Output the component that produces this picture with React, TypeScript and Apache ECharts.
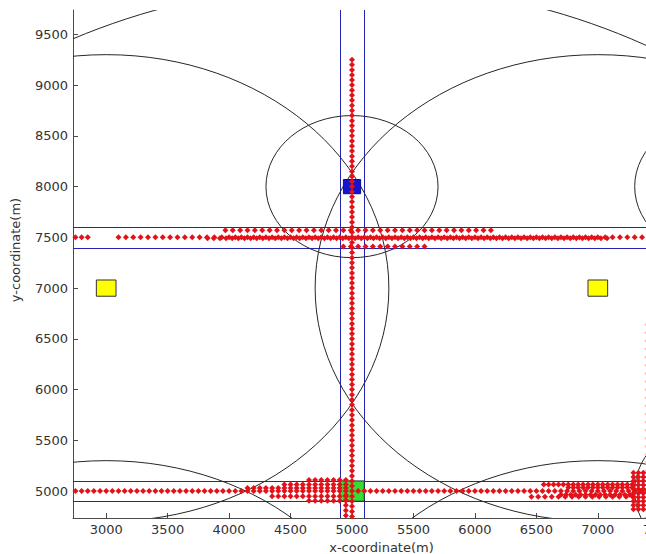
import React, { useEffect, useRef } from 'react';
import * as echarts from 'echarts';

// ---- axes ----
const xTicks = [3000, 3500, 4000, 4500, 5000, 5500, 6000, 6500, 7000, 7500];
const yTicks = [5000, 5500, 6000, 6500, 7000, 7500, 8000, 8500, 9000, 9500];
const xRange = [2730, 7750];
const yRange = [4735, 9740];

// ---- road boundaries ----
const roadX = [4900, 5100];
const roadY = [7400, 7600, 4900, 5100];

// ---- coverage circles: centre and radius (m) ----
const circleCenters = [
  [3000, 7000], [7000, 7000], [3000, 3000], [7000, 3000],
  [5000, 8000], [8000, 8000], [8000, 5000], [5000, 5000],
];
const circleRadii = [2300, 2300, 2300, 2300, 700, 700, 700, 5000];

// ---- nodes: centre and half side (m) ----
const nodeCenters = [[5000, 8000], [5000, 5000], [3000, 7000], [7000, 7000]];
const nodeHalf = [70, 100, 80, 80];
const nodeKinds = ['blue', 'green', 'yellow', 'yellow'];

// ---- red sample points ----
const columnX5000Y = [4750, 4800, 4850, 4900, 4950, 5000, 5050, 5100, 5150, 5200, 5250, 5300, 5350, 5400, 5450, 5500, 5550, 5600, 5650, 5700, 5750, 5800, 5850, 5900, 5950, 6000, 6050, 6100, 6150, 6200, 6250, 6300, 6350, 6400, 6450, 6500, 6550, 6600, 6650, 6700, 6750, 6800, 6850, 6900, 6950, 7000, 7050, 7100, 7150, 7200, 7250, 7300, 7350, 7400, 7450, 7500, 7550, 7600, 7650, 7700, 7750, 7800, 7850, 7900, 7950, 8000, 8050, 8100, 8150, 8200, 8250, 8300, 8350, 8400, 8450, 8500, 8550, 8600, 8650, 8700, 8750, 8800, 8850, 8900, 8950, 9000, 9050, 9100, 9150, 9200, 9250];
const columnX4950Y = [4760, 4810, 4860, 4910, 4960];

const rowY7500X = [2750, 2800, 2850, 3100, 3160, 3220, 3280, 3340, 3400, 3460, 3520, 3580, 3640, 3700, 3760, 3820, 3880, 3940, 4000, 4050, 4100, 4150, 4200, 4250, 4300, 4350, 4400, 4450, 4500, 4550, 4600, 4650, 4700, 4750, 4800, 4850, 4900, 4950, 5000, 5050, 5100, 5150, 5200, 5250, 5300, 5350, 5400, 5450, 5500, 5550, 5600, 5650, 5700, 5750, 5800, 5850, 5900, 5950, 6000, 6050, 6100, 6150, 6200, 6250, 6300, 6350, 6400, 6450, 6500, 6550, 6600, 6650, 6700, 6750, 6800, 6850, 6900, 6950, 7000, 7060, 7120, 7180, 7240, 7300, 7360];
const rowY7490X = [3825, 3875, 3925, 3975, 4025, 4075, 4125, 4175, 4225, 4275, 4325, 4375, 4425, 4475, 4525, 4575, 4625, 4675, 4725, 4775, 4825, 4875, 4925, 4975, 5025, 5075, 5125, 5175, 5225, 5275, 5325, 5375, 5425, 5475, 5525, 5575, 5625, 5675, 5725, 5775, 5825, 5875, 5925, 5975, 6025, 6075, 6125, 6175, 6225, 6275, 6325, 6375, 6425, 6475, 6525, 6575, 6625, 6675, 6725, 6775, 6825, 6875, 6925, 6975, 7025, 7075];
const rowY7570X = [3970, 4030, 4090, 4150, 4210, 4270, 4330, 4390, 4450, 4510, 4570, 4630, 4690, 4750, 4810, 4870, 4930, 4990, 5050, 5110, 5170, 5230, 5290, 5350, 5410, 5470, 5530, 5590, 5650, 5710, 5770, 5830, 5890, 5950, 6010, 6070, 6130];
const rowY7410X = [4930, 4990, 5050, 5110, 5170, 5230, 5290, 5350, 5410, 5470, 5530, 5590];

const rowY5000X = [2750, 2800, 2850, 2900, 2950, 3000, 3050, 3100, 3150, 3200, 3250, 3300, 3350, 3400, 3450, 3500, 3550, 3600, 3650, 3700, 3750, 3800, 3850, 3900, 3950, 4000, 4050, 4100, 4150, 4200, 4250, 4300, 4350, 4400, 4450, 4500, 4550, 4600, 4650, 4700, 4750, 4800, 4850, 4900, 4950, 5050, 5100, 5150, 5200, 5250, 5300, 5350, 5400, 5450, 5500, 5550, 5600, 5650, 5700, 5750, 5800, 5850, 5900, 5950, 6000, 6050, 6100, 6150, 6200, 6250, 6300, 6350, 6400, 6450, 6500, 6550, 6600, 6650, 6700, 6750, 6800, 6850, 6900, 6950, 7000, 7050, 7100, 7150, 7200, 7250, 7300, 7350, 7400];
const rowY5030X = [4150, 4200, 4250, 4300, 4350, 4400, 4450, 4500, 4550, 4600, 4650, 4700, 4750, 4800, 4850, 4900, 4950];
const rowY5065X = [4450, 4500, 4550, 4600, 4650, 4700, 4750, 4800, 4850, 4900, 4950];
const rowY5110X = [4650, 4700, 4750, 4800, 4850, 4900, 4950];
const rowY4950X = [4350, 4400, 4450, 4500, 4550, 4600, 4650, 4700, 4750, 4800, 4850, 4900, 4950];
const rowY4905X = [4650, 4700, 4750, 4800, 4850, 4900, 4950];

const rightY5065X = [6560, 6600, 6640, 6680, 6720, 6760, 6800, 6840, 6880, 6920, 6960, 7000, 7040, 7080, 7120, 7160, 7200, 7240, 7280];
const rightY5035X = [6760, 6800, 6840, 6880, 6920, 6960, 7000, 7040, 7080, 7120, 7160, 7200, 7240, 7280];
const rightY4965X = [6700, 6740, 6780, 6820, 6860, 6900, 6940, 6980, 7020, 7060, 7100, 7140, 7180, 7220, 7260];
const rightY4945X = [6460, 6515, 6570, 6625, 6680, 6735, 6790, 6845, 6900, 6955, 7010, 7065, 7120, 7175, 7230, 7285];
const blobX = [7290, 7330, 7370, 7410];
const blobY = [4820, 4860, 4900, 4940, 4980, 5020, 5060, 5100, 5140, 5180];
const faintX7390Y = [5200, 5280, 5360, 5440, 5520, 5600, 5680, 5760, 5840, 5920, 6000, 6080, 6160, 6240, 6320, 6400, 6480, 6560, 6640];

const row = (xs: number[], y: number) => xs.map((x) => [x, y]);
const col = (ys: number[], x: number) => ys.map((y) => [x, y]);

const redPoints: number[][] = [
  ...col(columnX5000Y, 5000),
  ...col(columnX4950Y, 4950),
  ...row(rowY7500X, 7500),
  ...row(rowY7490X, 7490),
  ...row(rowY7570X, 7570),
  ...row(rowY7410X, 7410),
  ...row(rowY5000X, 5000),
  ...row(rowY5030X, 5030),
  ...row(rowY5065X, 5065),
  ...row(rowY5110X, 5110),
  ...row(rowY4950X, 4950),
  ...row(rowY4905X, 4905),
  ...row(rightY5065X, 5065),
  ...row(rightY5035X, 5035),
  ...row(rightY4965X, 4965),
  ...row(rightY4945X, 4945),
  ...blobX.flatMap((x) => blobY.map((y) => [x, y])),
];
const faintPoints = col(faintX7390Y, 7390);

const nodeStyle: Record<string, { fill: string; stroke: string }> = {
  blue: { fill: '#1414cc', stroke: '#0a0a99' },
  green: { fill: '#33dd33', stroke: '#2a2a2a' },
  yellow: { fill: '#ffff00', stroke: '#333333' },
};

const FONT = '"DejaVu Sans", Verdana, sans-serif';
const ROAD_COLOR = '#2424b0';

export default function App() {
  const ref = useRef<HTMLDivElement>(null);
  useEffect(() => {
    document.body.style.margin = '0';
    if (!ref.current) return;
    const chart = echarts.init(ref.current, null, { renderer: 'svg' });
    const clipRect = (params: any) => {
      const cs = params.coordSys;
      return { type: 'rect', shape: { x: cs.x, y: cs.y, width: cs.width, height: cs.height } };
    };
    const snap = (v: number) => Math.round(v) + 0.5;
    const roadSegments = [
      ...roadX.map((v) => [v, yRange[0], v, yRange[1]]),
      ...roadY.map((v) => [xRange[0], v, xRange[1], v]),
    ];
    chart.setOption({
      animation: false,
      backgroundColor: '#ffffff',
      grid: { left: 73, right: -44, top: 10, bottom: 36, containLabel: false, outerBoundsMode: 'none' },
      xAxis: {
        type: 'value',
        min: xRange[0],
        max: xRange[1],
        name: 'x-coordinate(m)',
        nameLocation: 'middle',
        nameGap: 21,
        nameTextStyle: { color: '#333', fontSize: 13, fontFamily: FONT },
        axisLine: { show: true, onZero: false, lineStyle: { color: '#4a4a4a', width: 1 } },
        axisTick: { show: true, inside: true, length: 5, customValues: xTicks, lineStyle: { color: '#4a4a4a' } },
        axisLabel: { customValues: xTicks, formatter: (v: number) => String(v), color: '#333', fontSize: 13, fontFamily: FONT, margin: 5 },
        splitLine: { show: false },
      },
      yAxis: {
        type: 'value',
        min: yRange[0],
        max: yRange[1],
        axisLine: { show: true, onZero: false, lineStyle: { color: '#4a4a4a', width: 1 } },
        axisTick: { show: true, inside: true, length: 5, customValues: yTicks, lineStyle: { color: '#4a4a4a' } },
        axisLabel: { customValues: yTicks, formatter: (v: number) => String(v), color: '#333', fontSize: 13, fontFamily: FONT, margin: 5 },
        splitLine: { show: false },
      },
      graphic: [
        {
          type: 'text',
          x: 15,
          y: 250,
          rotation: Math.PI / 2,
          style: { text: 'y-coordinate(m)', fill: '#333', font: `13px ${FONT}`, align: 'center', verticalAlign: 'middle' },
        },
      ],
      series: [
        {
          type: 'custom',
          z: 1,
          silent: true,
          data: roadSegments,
          renderItem: (params: any, api: any) => {
            const a = api.coord([api.value(0), api.value(1)]);
            const b = api.coord([api.value(2), api.value(3)]);
            const vertical = api.value(0) === api.value(2);
            return {
              type: 'line',
              shape: vertical
                ? { x1: snap(a[0]), y1: a[1], x2: snap(b[0]), y2: b[1] }
                : { x1: a[0], y1: snap(a[1]), x2: b[0], y2: snap(b[1]) },
              style: { stroke: ROAD_COLOR, lineWidth: 1 },
            };
          },
        },
        {
          type: 'custom',
          z: 2,
          silent: true,
          data: circleCenters.map((c, i) => [c[0], c[1], circleRadii[i]]),
          renderItem: (params: any, api: any) => {
            const c = api.coord([api.value(0), api.value(1)]);
            const s = api.size([api.value(2), api.value(2)]);
            return {
              type: 'ellipse',
              shape: { cx: c[0], cy: c[1], rx: s[0], ry: s[1] },
              style: { fill: 'none', stroke: '#262626', lineWidth: 1 },
              clipPath: clipRect(params),
            };
          },
        },
        {
          type: 'custom',
          z: 3,
          silent: true,
          data: nodeCenters.map((c, i) => [c[0], c[1], nodeHalf[i], i]),
          renderItem: (params: any, api: any) => {
            const x = api.value(0), y = api.value(1), h = api.value(2);
            const st = nodeStyle[nodeKinds[api.value(3)]];
            const p0 = api.coord([x - h, y + h]);
            const p1 = api.coord([x + h, y - h]);
            return {
              type: 'rect',
              shape: { x: p0[0], y: p0[1], width: p1[0] - p0[0], height: p1[1] - p0[1] },
              style: { fill: st.fill, stroke: st.stroke, lineWidth: 1 },
            };
          },
        },
        {
          type: 'scatter',
          z: 4,
          silent: true,
          symbol: 'circle',
          symbolSize: 2.5,
          itemStyle: { color: '#ffb3b3' },
          data: faintPoints,
        },
        {
          type: 'scatter',
          z: 5,
          silent: true,
          symbol: 'diamond',
          symbolSize: 6,
          itemStyle: { color: '#e3121a', opacity: 1 },
          data: redPoints,
        },
      ],
    });
    return () => chart.dispose();
  }, []);
  return <div ref={ref} style={{ width: 646, height: 554 }} />;
}
